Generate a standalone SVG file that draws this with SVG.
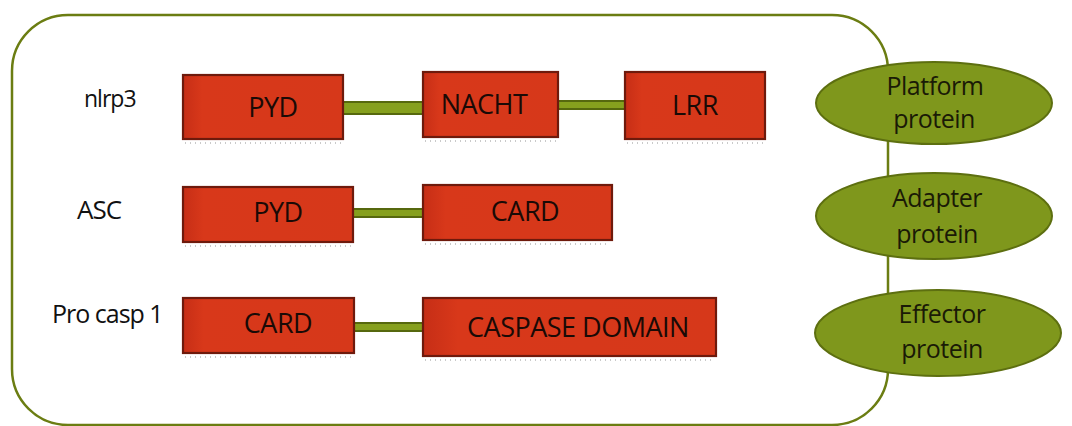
<svg xmlns="http://www.w3.org/2000/svg" width="1072" height="426" viewBox="0 0 1072 426">
<defs>
<linearGradient id="red" x1="0" y1="0" x2="1" y2="0">
<stop offset="0" stop-color="#c62e16"/>
<stop offset="0.12" stop-color="#d8381a"/>
<stop offset="1" stop-color="#d6381a"/>
</linearGradient>
</defs>
<style>
.frame{fill:none;stroke:#6b7d12;stroke-width:2.5}
.box{fill:url(#red);stroke:#6e1a0c;stroke-width:2.2}
.shd{stroke:#8a8a8a;stroke-width:1.5;stroke-dasharray:1 4;opacity:0.6}
.bt{font-family:"Open Sans","Noto Sans",sans-serif;font-size:27px;fill:#1a0a06;text-anchor:middle;letter-spacing:-0.5px}
.lbl{font-family:"Open Sans","Noto Sans",sans-serif;fill:#111;letter-spacing:-1px}
.ell{fill:#7f971c;stroke:#5d6f10;stroke-width:2}
.et{font-family:"Open Sans","Noto Sans",sans-serif;font-size:25px;fill:#1a1a06;text-anchor:middle;letter-spacing:-0.5px}
.bar{fill:#86a01e;stroke:#56680e;stroke-width:2}
</style>
<rect class="frame" x="12" y="15" width="876" height="410" rx="56" ry="56"/>
<g id="connectors">
<rect class="bar" x="343" y="102" width="80" height="12"/>
<rect class="bar" x="558" y="101" width="67" height="8"/>
<rect class="bar" x="353" y="209" width="70" height="8"/>
<rect class="bar" x="354" y="323" width="69" height="8"/>
</g>
<g id="lbl-nlrp3"><text class="lbl" x="84" y="107" font-size="23">nlrp3</text></g>
<g id="lbl-asc"><text class="lbl" x="77" y="219" font-size="26">ASC</text></g>
<g id="lbl-procasp1"><text class="lbl" x="52" y="323" font-size="25">Pro casp 1</text></g>
<g id="nlrp3-pyd"><rect class="box" x="183" y="75" width="160" height="64"/><line class="shd" x1="185" y1="143" x2="343" y2="143"/><text class="bt" x="273" y="117">PYD</text></g>
<g id="nlrp3-nacht"><rect class="box" x="423" y="72" width="135" height="65"/><line class="shd" x1="425" y1="141" x2="556" y2="141"/><text class="bt" x="484" y="114">NACHT</text></g>
<g id="nlrp3-lrr"><rect class="box" x="625" y="72" width="140" height="67"/><line class="shd" x1="627" y1="143" x2="763" y2="143"/><text class="bt" x="695" y="115">LRR</text></g>
<g id="asc-pyd"><rect class="box" x="183" y="187" width="170" height="55"/><line class="shd" x1="185" y1="246" x2="353" y2="246"/><text class="bt" x="278" y="222">PYD</text></g>
<g id="asc-card"><rect class="box" x="423" y="185" width="189" height="55"/><line class="shd" x1="425" y1="244" x2="610" y2="244"/><text class="bt" x="525" y="221">CARD</text></g>
<g id="casp-card"><rect class="box" x="183" y="298" width="171" height="55"/><line class="shd" x1="185" y1="357" x2="352" y2="357"/><text class="bt" x="278" y="333">CARD</text></g>
<g id="casp-domain"><rect class="box" x="423" y="298" width="293" height="58"/><line class="shd" x1="425" y1="360" x2="714" y2="360"/><text class="bt" x="578" y="337">CASPASE DOMAIN</text></g>
<g id="platform"><ellipse class="ell" cx="934" cy="103" rx="118" ry="41"/><text class="et" x="935" y="95">Platform</text><text class="et" x="934" y="128">protein</text></g>
<g id="adapter"><ellipse class="ell" cx="934" cy="216" rx="118" ry="43"/><text class="et" x="937" y="207">Adapter</text><text class="et" x="937" y="243">protein</text></g>
<g id="effector"><ellipse class="ell" cx="938" cy="333" rx="123" ry="43"/><text class="et" x="942" y="323">Effector</text><text class="et" x="942" y="358">protein</text></g>
</svg>
